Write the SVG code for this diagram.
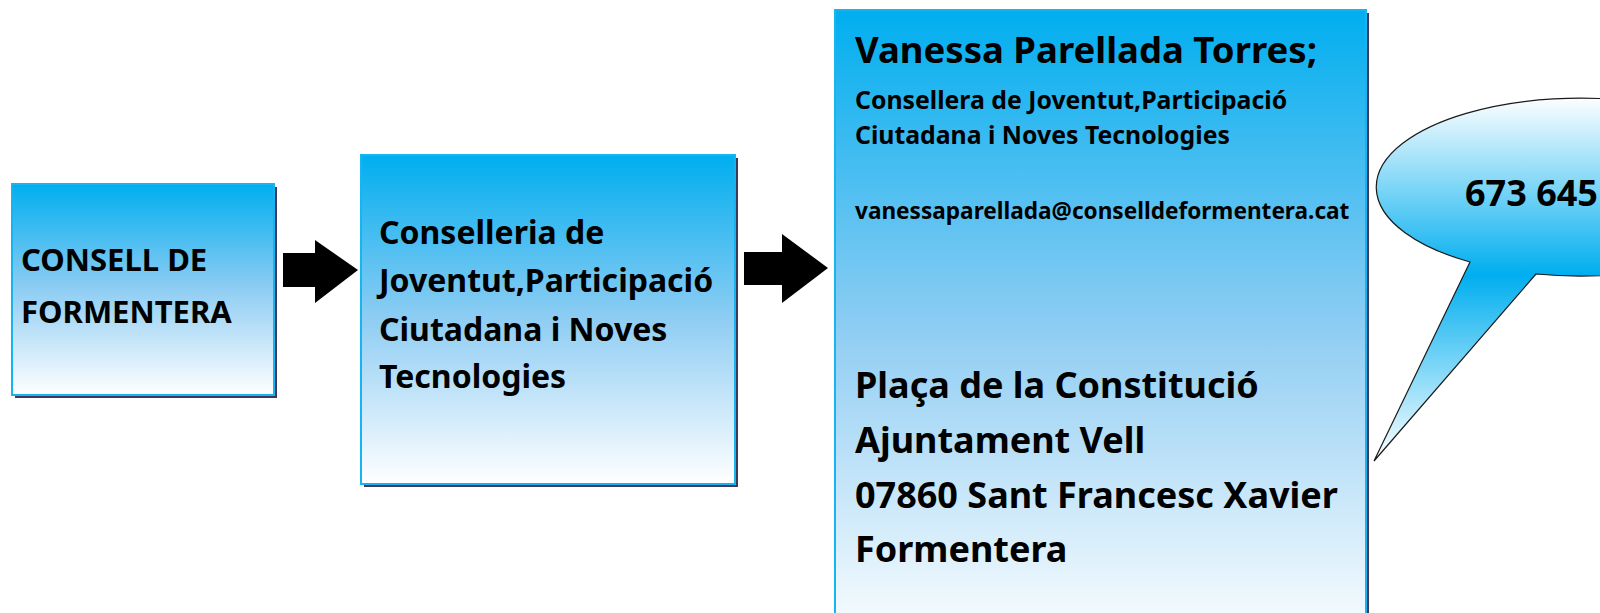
<svg xmlns="http://www.w3.org/2000/svg" width="1600" height="613" viewBox="0 0 1600 613">
<defs>
<linearGradient id="g1" x1="0" y1="0" x2="0" y2="1">
<stop offset="0" stop-color="#00aeef"/>
<stop offset="0.5" stop-color="#8fcdf3"/>
<stop offset="1" stop-color="#ffffff"/>
</linearGradient>
<linearGradient id="gc" gradientUnits="userSpaceOnUse" x1="0" y1="96" x2="0" y2="461">
<stop offset="0" stop-color="#ffffff"/>
<stop offset="0.49" stop-color="#00aeef"/>
<stop offset="1" stop-color="#ffffff"/>
</linearGradient>
</defs>
<style>
.box{fill:url(#g1);stroke:#16b4f0;stroke-width:2}
.shadow{fill:#3c3a5c}
.t{font-family:"Noto Sans","Open Sans","DejaVu Sans",sans-serif;font-weight:bold;fill:#000}
.arrow{fill:#000}
</style>
<rect width="1600" height="613" fill="#fff"/>
<g id="node-consell">
<rect class="shadow" x="15" y="187" width="262" height="211"/>
<rect class="box" x="12" y="184" width="262" height="211"/>
<text class="t" font-size="31"><tspan x="21" y="271">CONSELL DE</tspan><tspan x="21" y="323">FORMENTERA</tspan></text>
</g>
<g id="node-conselleria">
<rect class="shadow" x="364" y="158" width="374" height="329"/>
<rect class="box" x="361" y="155" width="374" height="329"/>
<text class="t" font-size="32"><tspan x="379" y="244">Conselleria de</tspan><tspan x="379" y="292">Joventut,Participació</tspan><tspan x="379" y="341">Ciutadana i Noves</tspan><tspan x="379" y="388">Tecnologies</tspan></text>
</g>
<g id="node-vanessa">
<rect class="shadow" x="838" y="13" width="531" height="640"/>
<rect class="box" x="835" y="10" width="531" height="640"/>
<text class="t" x="855" y="63" font-size="36.5">Vanessa Parellada Torres;</text>
<text class="t" font-size="24.8"><tspan x="855" y="109">Consellera de Joventut,Participació</tspan><tspan x="855" y="144">Ciutadana i Noves Tecnologies</tspan></text>
<text class="t" x="855" y="219" font-size="22.6">vanessaparellada@conselldeformentera.cat</text>
<text class="t" font-size="36"><tspan x="855" y="398">Plaça de la Constitució</tspan><tspan x="855" y="453">Ajuntament Vell</tspan><tspan x="855" y="508">07860 Sant Francesc Xavier</tspan><tspan x="855" y="562">Formentera</tspan></text>
</g>
<g id="node-phone">
<path d="M1470,262 L1374,461 L1536,274 A204,89 0 1 0 1470,262 Z" fill="url(#gc)" stroke="#1a1a1a" stroke-width="1.2"/>
<text class="t" x="1465" y="206" font-size="36">673 645</text>
</g>
<g id="connectors">
<polygon class="arrow" points="283,253 315,253 315,240 358,270 315,303 315,287 283,287"/>
<polygon class="arrow" points="744,252 782,252 782,234 828,268 782,303 782,285 744,285"/>
</g>
</svg>
